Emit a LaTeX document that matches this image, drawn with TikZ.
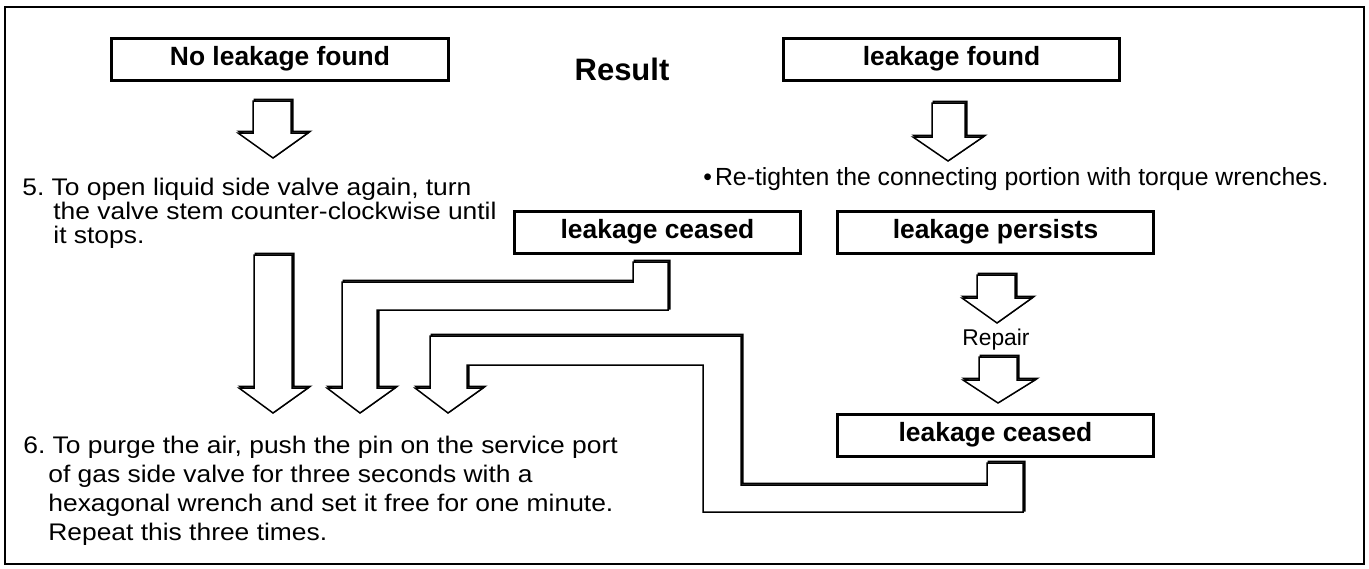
\documentclass[tikz,border=0pt]{standalone}
\usepackage{fontspec}
\setmainfont{Liberation Sans}
\newfontfamily\widefont[FakeStretch=1.1]{Liberation Sans}
\usetikzlibrary{positioning}

\newcommand\blockarrow[1]{\draw[blkshade] #1; \draw[blk] #1;}

\begin{document}
\begin{tikzpicture}[x=0.5pt, y=-0.5pt,
  lbl/.style={draw, line width=1.5pt, fill=white, inner sep=0pt, minimum height=21pt,
              font=\fontsize{13.2}{15}\selectfont\bfseries},
  txt/.style={inner sep=0pt, align=left},
  blk/.style={draw, fill=white, line width=0.75pt, line join=miter},
  blkshade/.style={draw, line width=1pt, line join=miter, shift={(1.5,-1.5)}}]
  \useasboundingbox (0,0) rectangle (1369,568);
  \draw[line width=1pt] (5,7) rectangle (1364,564);

  % result row
  \node[lbl, minimum width=168.5pt] (nolk) at (280,59) {No leakage found};
  \node[font=\fontsize{15.5}{17}\selectfont\bfseries] (result) at (622,69) {Result};
  \node[lbl, minimum width=168pt] (lkfound) at (951.5,59) {leakage found};

  \node[lbl, minimum width=143pt] (ceasedA) at (657.5,232) {leakage ceased};
  \node[lbl, minimum width=158pt] (persists) at (995.5,232) {leakage persists};
  \node[lbl, minimum width=158pt, below=79pt of persists] (ceasedB) {leakage ceased};

  % texts
  \node[txt, anchor=north west, font=\widefont\fontsize{12}{12}\selectfont] (stepfive) at (22,177.5)
    {5.\ To open liquid side valve again, turn\\
     \hspace*{15.5pt}the valve stem counter-clockwise until\\
     \hspace*{15.5pt}it stops.};
  \node[txt, anchor=base west, font=\fontsize{12.4}{14}\selectfont] (retight) at (703,185)
    {\textbullet\hspace{1.5pt}Re-tighten the connecting portion with torque wrenches.};
  \node[font=\fontsize{11.4}{13}\selectfont] (repair) at (996,340) {Repair};
  \node[txt, anchor=north west, font=\widefont\fontsize{12}{14.5}\selectfont] (stepsix) at (23,436)
    {6.\ To purge the air, push the pin on the service port\\
     \hspace*{12.5pt}of gas side valve for three seconds with a\\
     \hspace*{12.5pt}hexagonal wrench and set it free for one minute.\\
     \hspace*{12.5pt}Repeat this three times.};

  % block arrows
  \blockarrow{(253,101) -- (291,101) -- (291,133) -- (308,133) -- (273,158) -- (238,133) -- (253,133) -- cycle}
  \blockarrow{(932,103) -- (965,103) -- (965,137) -- (983,137) -- (948,161) -- (913,137) -- (932,137) -- cycle}
  \blockarrow{(977,275) -- (1015,275) -- (1015,298) -- (1032,298) -- (997,323) -- (962,298) -- (977,298) -- cycle}
  \blockarrow{(979,357) -- (1017,357) -- (1017,380) -- (1035,380) -- (998,403) -- (963,380) -- (979,380) -- cycle}
  \blockarrow{(254,255) -- (292,255) -- (292,388) -- (308,388) -- (273,413) -- (239,388) -- (254,388) -- cycle}
  \blockarrow{(633,262) -- (668,262) -- (668,310) -- (377,310) -- (377,388) -- (395,388) -- (360,413)
    -- (327,388) -- (342,388) -- (342,282) -- (633,282) -- cycle}
  \blockarrow{(987,463) -- (1023,463) -- (1023,512) -- (703,512) -- (703,365) -- (467,365) -- (467,388)
    -- (483,388) -- (448,413) -- (415,388) -- (430,388) -- (430,336) -- (741,336) -- (741,485)
    -- (987,485) -- cycle}
\end{tikzpicture}
\end{document}
